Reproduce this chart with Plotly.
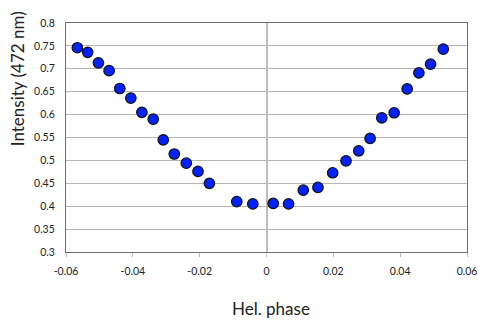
import plotly.graph_objects as go

hel_phase = [-0.0566, -0.0535, -0.0503, -0.0471, -0.0439, -0.0406, -0.0373, -0.0339,
             -0.0309, -0.0276, -0.0240, -0.0205, -0.0171, -0.0089, -0.0041, 0.0020,
             0.0066, 0.0110, 0.0154, 0.0198, 0.0238, 0.0276, 0.0310, 0.0345,
             0.0382, 0.0421, 0.0456, 0.0491, 0.0529]
intensity = [0.746, 0.736, 0.713, 0.696, 0.657, 0.636, 0.605, 0.590,
             0.545, 0.514, 0.494, 0.476, 0.450, 0.410, 0.405, 0.406,
             0.405, 0.435, 0.441, 0.473, 0.499, 0.521, 0.548, 0.593,
             0.604, 0.656, 0.691, 0.710, 0.743]

x_ticks = [-0.06, -0.04, -0.02, 0, 0.02, 0.04, 0.06]
x_tick_labels = ["-0.06", "-0.04", "-0.02", "0", "0.02", "0.04", "0.06"]
y_ticks = [0.3, 0.35, 0.4, 0.45, 0.5, 0.55, 0.6, 0.65, 0.7, 0.75, 0.8]
y_tick_labels = ["0.3", "0.35", "0.4", "0.45", "0.5", "0.55", "0.6", "0.65", "0.7", "0.75", "0.8"]

x_title = "Hel. phase"
y_title = "Intensity (472 nm)"

fig = go.Figure()
fig.add_trace(go.Scatter(
    x=hel_phase, y=intensity, mode="markers",
    marker=dict(size=10.5, color="#0022ff", line=dict(color="#111111", width=1.2)),
    showlegend=False,
))

fig.update_layout(
    width=478, height=320,
    margin=dict(l=66, r=11, t=23, b=68),
    paper_bgcolor="white", plot_bgcolor="white",
    font=dict(family="Lato, Open Sans, sans-serif", color="#222222"),
    xaxis=dict(
        range=[-0.06, 0.06], tickvals=x_ticks, ticktext=x_tick_labels,
        automargin=False,
        showgrid=False, zeroline=True, zerolinecolor="#bdbdbd", zerolinewidth=1.5,
        showline=True, linecolor="#6e6e6e", linewidth=1.2, mirror=True,
        ticks="outside", ticklen=4, tickcolor="#bdbdbd",
        ticklabelstandoff=5, ticklabeloverflow="allow",
        tickfont=dict(size=10.5),
    ),
    yaxis=dict(
        range=[0.3, 0.8], tickvals=y_ticks, ticktext=y_tick_labels,
        automargin=False,
        showgrid=True, gridcolor="#b5b5b5", gridwidth=1,
        zeroline=False,
        showline=True, linecolor="#6e6e6e", linewidth=1.2, mirror=True,
        ticks="", ticklabelstandoff=8,
        tickfont=dict(size=10.5),
    ),
    annotations=[
        dict(text=x_title, xref="paper", yref="paper", x=0.511, y=-0.245,
             xanchor="center", yanchor="middle", showarrow=False,
             font=dict(size=17, color="#222222")),
        dict(text=y_title, xref="paper", yref="paper", x=-0.122, y=0.755,
             xanchor="center", yanchor="middle", showarrow=False, textangle=-90,
             font=dict(size=17, color="#222222")),
    ],
)

fig.write_html(
    "out.html",
    config={"displayModeBar": False},
    post_script="document.body.style.margin='0';document.body.style.overflow='hidden';",
)
